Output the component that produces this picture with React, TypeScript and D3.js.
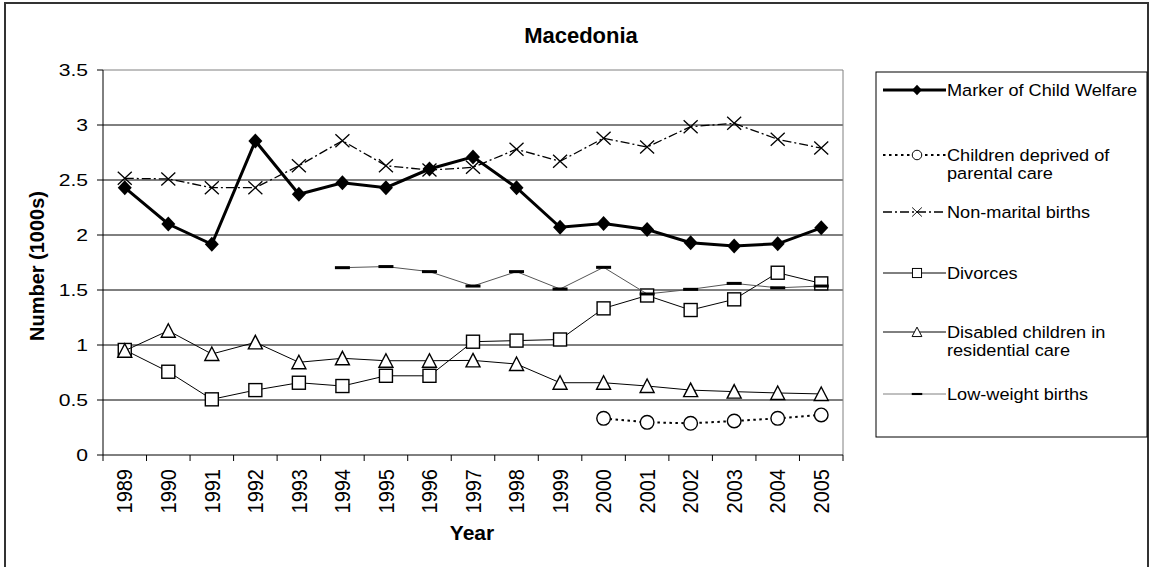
import React from 'react';
import * as d3 from 'd3';

// Data (thousands)
const years = ['1989', '1990', '1991', '1992', '1993', '1994', '1995', '1996', '1997', '1998', '1999', '2000', '2001', '2002', '2003', '2004', '2005'];
const childWelfare = [2.43, 2.1, 1.915, 2.855, 2.37, 2.475, 2.43, 2.6, 2.71, 2.43, 2.07, 2.105, 2.05, 1.93, 1.9, 1.92, 2.065];
const deprivedCare = [null, null, null, null, null, null, null, null, null, null, null, 0.333, 0.297, 0.288, 0.309, 0.333, 0.364];
const nonMarital = [2.515, 2.51, 2.43, 2.43, 2.63, 2.857, 2.63, 2.59, 2.615, 2.78, 2.67, 2.88, 2.8, 2.985, 3.015, 2.87, 2.79];
const divorces = [0.955, 0.757, 0.506, 0.59, 0.657, 0.627, 0.72, 0.72, 1.03, 1.04, 1.05, 1.333, 1.45, 1.318, 1.415, 1.657, 1.56];
const disabledCare = [0.948, 1.13, 0.918, 1.024, 0.843, 0.879, 0.857, 0.857, 0.86, 0.827, 0.657, 0.657, 0.627, 0.59, 0.576, 0.564, 0.555];
const lowWeight = [null, null, null, null, null, 1.703, 1.713, 1.667, 1.536, 1.667, 1.509, 1.706, 1.464, 1.506, 1.56, 1.52, 1.536];
const yTicks = [0, 0.5, 1, 1.5, 2, 2.5, 3, 3.5];

type MarkerType = 'diamond' | 'circle' | 'x' | 'square' | 'triangle' | 'dash';

interface Series {
  label: string[];
  values: (number | null)[];
  stroke: string;
  width: number;
  dash?: string;
  marker: MarkerType;
}

const SERIES: Series[] = [
  { label: ['Marker of Child Welfare'], values: childWelfare, stroke: '#000', width: 3, marker: 'diamond' },
  { label: ['Children deprived of', 'parental care'], values: deprivedCare, stroke: '#000', width: 2, dash: '2.5 3.5', marker: 'circle' },
  { label: ['Non-marital births'], values: nonMarital, stroke: '#000', width: 1.3, dash: '9 3 2 3', marker: 'x' },
  { label: ['Divorces'], values: divorces, stroke: '#000', width: 1, marker: 'square' },
  { label: ['Disabled children in', 'residential care'], values: disabledCare, stroke: '#000', width: 1, marker: 'triangle' },
  { label: ['Low-weight births'], values: lowWeight, stroke: '#555', width: 1, marker: 'dash' },
];

const W = 1151;
const H = 567;
const plot = { left: 103, right: 843, top: 70, bottom: 455 };
const legend = { x: 876, y: 72, w: 271, h: 365, sampleX1: 883, sampleX2: 946, markerX: 917, textX: 947 };
const legendRows = [90, 155, 212, 273, 332, 394];
const FONT = '"Liberation Sans", Arial, sans-serif';

function Marker({ type }: { type: MarkerType }) {
  switch (type) {
    case 'diamond':
      return <path d="M0,-7.5L7,0L0,7.5L-7,0Z" fill="#000" />;
    case 'circle':
      return <circle r={6.8} fill="#fff" stroke="#000" strokeWidth={1.4} />;
    case 'x':
      return <path d="M-7,-6.5L7,6.5M-7,6.5L7,-6.5" fill="none" stroke="#000" strokeWidth={1.3} />;
    case 'square':
      return <rect x={-6.5} y={-6.5} width={13} height={13} fill="#fff" stroke="#000" strokeWidth={1.4} />;
    case 'triangle':
      return <path d="M0,-7L7,6.5L-7,6.5Z" fill="#fff" stroke="#000" strokeWidth={1.4} />;
    case 'dash':
      return <rect x={-7.5} y={-1.5} width={15} height={3} fill="#000" />;
  }
}

export default function App() {
  const x = d3.scaleBand<string>().domain(years).range([plot.left, plot.right]);
  const y = d3.scaleLinear().domain([0, 3.5]).range([plot.bottom, plot.top]);
  const cx = (yr: string) => (x(yr) as number) + x.bandwidth() / 2;

  const line = d3
    .line<number | null>()
    .defined((d) => d !== null)
    .x((_, i) => cx(years[i]))
    .y((d) => y(d as number));

  const bounds = years.map((yr) => x(yr) as number).concat([plot.right]);

  return (
    <svg
      width={W}
      height={H}
      style={{ position: 'absolute', left: 0, top: 0, background: '#fff', fontFamily: FONT }}
    >
      <rect x={0} y={0} width={W} height={H} fill="#fff" />
      {/* chart area border */}
      <rect x={5} y={3} width={1143} height={620} fill="none" stroke="#333" strokeWidth={2} />

      <text x={581} y={43} textAnchor="middle" fontWeight="bold" fontSize={22}>Macedonia</text>

      {/* grid */}
      {yTicks.filter((t) => t > 0 && t < 3.5).map((t) => (
        <line key={t} x1={plot.left} x2={plot.right} y1={y(t)} y2={y(t)} stroke="#000" strokeWidth={1} />
      ))}
      <line x1={plot.left} x2={plot.right} y1={y(3.5)} y2={y(3.5)} stroke="#808080" strokeWidth={1} />
      <line x1={plot.right} x2={plot.right} y1={plot.top} y2={plot.bottom} stroke="#808080" strokeWidth={1} />

      {/* y axis */}
      <line x1={plot.left} x2={plot.left} y1={plot.top} y2={plot.bottom} stroke="#000" strokeWidth={1} />
      {yTicks.map((t) => (
        <g key={t}>
          <line x1={plot.left - 6} x2={plot.left} y1={y(t)} y2={y(t)} stroke="#000" />
          <text
            transform={`translate(88,${y(t)}) scale(1.28,1)`}
            textAnchor="end"
            dy="0.35em"
            fontSize={16.5}
          >
            {String(t)}
          </text>
        </g>
      ))}
      <text
        transform="translate(37,266) rotate(-90)"
        textAnchor="middle"
        dy="0.35em"
        fontWeight="bold"
        fontSize={20}
      >
        Number (1000s)
      </text>

      {/* x axis */}
      <line x1={plot.left} x2={plot.right} y1={plot.bottom} y2={plot.bottom} stroke="#000" strokeWidth={1} />
      {bounds.map((b, i) => (
        <line key={i} x1={b} x2={b} y1={plot.bottom} y2={plot.bottom + 6} stroke="#000" />
      ))}
      {years.map((yr) => (
        <text
          key={yr}
          transform={`translate(${cx(yr)},469) scale(1.1,1) rotate(-90)`}
          textAnchor="end"
          dy="0.35em"
          fontSize={20}
        >
          {yr}
        </text>
      ))}
      <text x={472} y={540} textAnchor="middle" fontWeight="bold" fontSize={21}>Year</text>

      {/* series */}
      {SERIES.map((s, si) => (
        <g key={si}>
          <path
            d={line(s.values) || ''}
            fill="none"
            stroke={s.stroke}
            strokeWidth={s.width}
            strokeDasharray={s.dash}
          />
          {s.values.map((v, i) =>
            v === null ? null : (
              <g key={i} transform={`translate(${cx(years[i])},${y(v)})`}>
                <Marker type={s.marker} />
              </g>
            )
          )}
        </g>
      ))}

      {/* legend */}
      <rect x={legend.x} y={legend.y} width={legend.w} height={legend.h} fill="#fff" stroke="#000" strokeWidth={1} />
      {SERIES.map((s, si) => {
        const ry = legendRows[si];
        return (
          <g key={si}>
            <line
              x1={legend.sampleX1}
              x2={legend.sampleX2}
              y1={ry}
              y2={ry}
              stroke={s.marker === 'dash' ? '#808080' : s.stroke}
              strokeWidth={s.width}
              strokeDasharray={s.dash}
            />
            <g transform={`translate(${legend.markerX},${ry}) scale(0.7)`}>
              <Marker type={s.marker} />
            </g>
            {s.label.map((l, li) => (
              <text
                key={li}
                transform={`translate(${legend.textX},${ry + li * 18}) scale(1.1,1)`}
                dy="0.35em"
                fontSize={16.5}
              >
                {l}
              </text>
            ))}
          </g>
        );
      })}
    </svg>
  );
}
